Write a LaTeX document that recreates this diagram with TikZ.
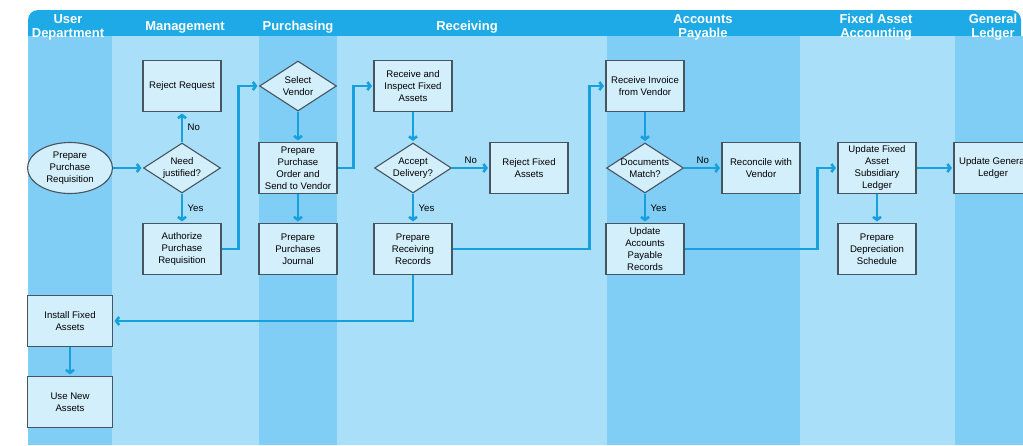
\documentclass[tikz,border=0pt]{standalone}
\usepackage{fontspec}
\setmainfont{Liberation Sans}
\usetikzlibrary{shapes.geometric,arrows.meta}
\definecolor{headblue}{RGB}{30,170,230}
\definecolor{lanemid}{RGB}{128,206,245}
\definecolor{lanelight}{RGB}{170,223,250}
\definecolor{boxfill}{RGB}{212,239,252}
\definecolor{boxline}{RGB}{70,85,95}
\definecolor{flowblue}{RGB}{22,160,222}
\begin{document}
\begin{tikzpicture}[x=1pt,y=-1pt]
	\tikzset{every node/.style=
		{align=center, font=\fontsize{9.6}{12}\selectfont},
		box/.style={draw=boxline, fill=boxfill, line width=1.1pt, minimum width=78pt, minimum height=51pt, inner sep=1pt},
		decision/.style={diamond, draw=boxline, fill=boxfill, line width=1.1pt, minimum width=77pt, minimum height=50pt, inner xsep=-14pt, inner ysep=-6pt},
		terminal/.style={ellipse, draw=boxline, fill=boxfill, line width=1.1pt, minimum width=85pt, minimum height=51pt, inner sep=0pt},
		flow/.style={draw=flowblue, line width=2.6pt, -{Straight Barb[length=3pt,width=8pt]}, shorten >=1.5pt},
		head/.style={text=white, font=\fontsize{13}{12.5}\selectfont\bfseries}
	}
	\useasboundingbox (0,0) rectangle (1023,445);
	% header band and lanes
	\fill[headblue, rounded corners=10pt] (28,46) -- (28,10) -- (1021,10) -- (1021,46) -- cycle;
	\fill[lanemid] (28,36) rectangle (112,445);
	\fill[lanelight] (112,36) rectangle (259,445);
	\fill[lanemid] (259,36) rectangle (337,445);
	\fill[lanelight] (337,36) rectangle (607,445);
	\fill[lanemid] (607,36) rectangle (800,445);
	\fill[lanelight] (800,36) rectangle (955,445);
	\fill[lanemid] (955,36) rectangle (1023,445);
	\node (hud) at (68,27.5) [head] {User\\[1.5pt]Department};
	\node (hmg) at (185,27) [head] {Management};
	\node (hpu) at (298,27) [head] {Purchasing};
	\node (hre) at (467,27) [head] {Receiving};
	\node (hap) at (703,27.5) [head] {Accounts\\[1.5pt]Payable};
	\node (hfa) at (876,27.5) [head] {Fixed Asset\\[1.5pt]Accounting};
	\node (hgl) at (993,27.5) [head] {General\\[1.5pt]Ledger};

	\node (ud1) at (70,168) [terminal] {Prepare\\Purchase\\Requisition};
	\node (ud2) at (70,321) [box, minimum width=85pt] {Install Fixed\\Assets};
	\node (ud3) at (70,402) [box, minimum width=85pt] {Use New\\Assets};
	\node (mg1) at (182,86) [box] {Reject Request};
	\node (mg2) at (182,168) [decision] {Need\\justified?};
	\node (mg3) at (182,249) [box] {Authorize\\Purchase\\Requisition};
	\node (pu1) at (298,86) [decision] {Select\\Vendor};
	\node (pu2) at (298,168) [box] {Prepare\\Purchase\\Order and\\Send to Vendor};
	\node (pu3) at (298,249) [box] {Prepare\\Purchases\\Journal};
	\node (re1) at (413,86) [box] {Receive and\\Inspect Fixed\\Assets};
	\node (re2) at (413,168) [decision] {Accept\\Delivery?};
	\node (re3) at (529,168) [box] {Reject Fixed\\Assets};
	\node (re4) at (413,249) [box] {Prepare\\Receiving\\Records};
	\node (ap1) at (645,86) [box] {Receive Invoice\\from Vendor};
	\node (ap2) at (645,168) [decision] {Documents\\Match?};
	\node (ap3) at (761,168) [box] {Reconcile with\\Vendor};
	\node (ap4) at (645,249) [box] {Update\\Accounts\\Payable\\Records};
	\node (fa1) at (877,168) [box] {Update Fixed\\Asset\\Subsidiary\\Ledger};
	\node (fa2) at (877,249) [box] {Prepare\\Depreciation\\Schedule};
	\node (gl1) at (993,168) [box] {Update General\\Ledger};

	\draw[flow] (node cs:name=ud1,anchor=east) -- (node cs:name=mg2,anchor=west);
	\draw[flow] (node cs:name=mg2,anchor=north) -- node[right, xshift=1pt] {No} (node cs:name=mg1,anchor=south);
	\draw[flow] (node cs:name=mg2,anchor=south) -- node[right, xshift=1pt] {Yes} (node cs:name=mg3,anchor=north);
	\draw[flow] (node cs:name=mg3,anchor=east) -- ++(17,0) |- (node cs:name=pu1,anchor=west);
	\draw[flow] (node cs:name=pu1,anchor=south) -- (node cs:name=pu2,anchor=north);
	\draw[flow] (node cs:name=pu2,anchor=south) -- (node cs:name=pu3,anchor=north);
	\draw[flow] (node cs:name=pu2,anchor=east) -- ++(16,0) |- (node cs:name=re1,anchor=west);
	\draw[flow] (node cs:name=re1,anchor=south) -- (node cs:name=re2,anchor=north);
	\draw[flow] (node cs:name=re2,anchor=east) -- node[above] {No} (node cs:name=re3,anchor=west);
	\draw[flow] (node cs:name=re2,anchor=south) -- node[right, xshift=1pt] {Yes} (node cs:name=re4,anchor=north);
	\draw[flow] (node cs:name=re4,anchor=east) -- ++(137,0) |- (node cs:name=ap1,anchor=west);
	\draw[flow] (node cs:name=re4,anchor=south) |- (node cs:name=ud2,anchor=east);
	\draw[flow] (node cs:name=ud2,anchor=south) -- (node cs:name=ud3,anchor=north);
	\draw[flow] (node cs:name=ap1,anchor=south) -- (node cs:name=ap2,anchor=north);
	\draw[flow] (node cs:name=ap2,anchor=east) -- node[above] {No} (node cs:name=ap3,anchor=west);
	\draw[flow] (node cs:name=ap2,anchor=south) -- node[right, xshift=1pt] {Yes} (node cs:name=ap4,anchor=north);
	\draw[flow] (node cs:name=ap4,anchor=east) -- ++(133,0) |- (node cs:name=fa1,anchor=west);
	\draw[flow] (node cs:name=fa1,anchor=south) -- (node cs:name=fa2,anchor=north);
	\draw[flow] (node cs:name=fa1,anchor=east) -- (node cs:name=gl1,anchor=west);
\end{tikzpicture}
\end{document}
